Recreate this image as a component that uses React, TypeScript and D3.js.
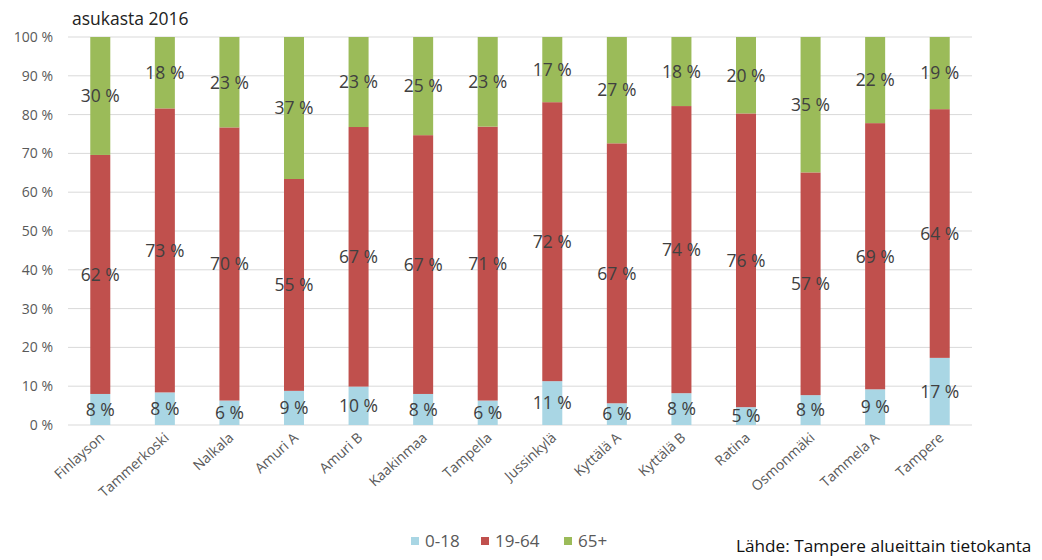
import React from "react";
import * as d3 from "d3";

// Age structure per area, share of residents (%)
const areas = [
  "Finlayson", "Tammerkoski", "Nalkala", "Amuri A", "Amuri B", "Kaakinmaa", "Tampella",
  "Jussinkylä", "Kyttälä A", "Kyttälä B", "Ratina", "Osmonmäki", "Tammela A", "Tampere",
];
const age0to18 = [8.0, 8.4, 6.3, 8.8, 9.9, 8.0, 6.3, 11.3, 5.6, 8.2, 4.6, 7.7, 9.2, 17.3];
const age19to64 = [61.6, 73.2, 70.4, 54.6, 66.9, 66.7, 70.6, 71.9, 67.0, 74.0, 75.7, 57.4, 68.6, 64.1];
const age65plus = [30.4, 18.4, 23.3, 36.6, 23.2, 25.3, 23.1, 16.8, 27.4, 17.8, 19.7, 34.9, 22.2, 18.6];
const seriesNames = ["0-18", "19-64", "65+"];
const seriesColors = ["#A9D6E4", "#C0504D", "#9BBB59"];
const yTicks = [0, 10, 20, 30, 40, 50, 60, 70, 80, 90, 100];

const W = 1042;
const H = 560;
const FONT = "'Open Sans', 'Liberation Sans', sans-serif";

export default function App() {
  const x = d3.scaleBand<string>().domain(areas).range([68, 972]).paddingInner(0.69).paddingOuter(0.345);
  const y = d3.scaleLinear().domain([0, 100]).range([425, 37]);

  const rows = areas.map((a, i) => ({ area: a, "0-18": age0to18[i], "19-64": age19to64[i], "65+": age65plus[i] }));
  const stacked = d3.stack<any>().keys(seriesNames)(rows);

  const legendX = [411, 481, 564];

  return (
    <svg width={W} height={H} style={{ position: "absolute", left: 0, top: 0, background: "#fff" }} fontFamily={FONT}>
      <rect x={0} y={0} width={W} height={H} fill="#fff" />
      <text x={72} y={25} fontSize={17.5} fill="#222">asukasta 2016</text>

      {/* gridlines and y axis labels */}
      {yTicks.map((t) => (
        <g key={t}>
          <line x1={68} x2={972} y1={y(t)} y2={y(t)} stroke="#d9d9d9" strokeWidth={1} />
          <text x={53} y={y(t)} dy="0.35em" textAnchor="end" fontSize={14} fill="#595959">
            {`${t} %`}
          </text>
        </g>
      ))}

      {/* stacked bars */}
      {stacked.map((s, si) => (
        <g key={s.key} fill={seriesColors[si]}>
          {s.map((d, i) => (
            <rect key={i} x={x(areas[i])} y={y(d[1])} width={x.bandwidth()} height={y(d[0]) - y(d[1])} />
          ))}
        </g>
      ))}

      {/* value labels */}
      {stacked.map((s) => (
        <g key={s.key + "-lbl"}>
          {s.map((d, i) => (
            <text
              key={i}
              x={(x(areas[i]) as number) + x.bandwidth() / 2}
              y={y((d[0] + d[1]) / 2)}
              dy="0.36em"
              textAnchor="middle"
              fontSize={17.5}
              fill="#404040"
            >
              {`${Math.round(d[1] - d[0])} %`}
            </text>
          ))}
        </g>
      ))}

      {/* category labels */}
      {areas.map((a) => {
        const cx = (x(a) as number) + x.bandwidth() / 2 + 5;
        return (
          <text
            key={a}
            transform={`translate(${cx},${439}) rotate(-42)`}
            textAnchor="end"
            fontSize={14}
            fill="#595959"
          >
            {a}
          </text>
        );
      })}

      {/* legend */}
      {seriesNames.map((n, i) => (
        <g key={n}>
          <rect x={legendX[i]} y={537} width={8} height={8} fill={seriesColors[i]} />
          <text x={legendX[i] + 14} y={541} dy="0.36em" fontSize={17} fill="#595959">{n}</text>
        </g>
      ))}

      <text x={736} y={552} fontSize={17.2} fill="#111">Lähde: Tampere alueittain tietokanta</text>
    </svg>
  );
}
